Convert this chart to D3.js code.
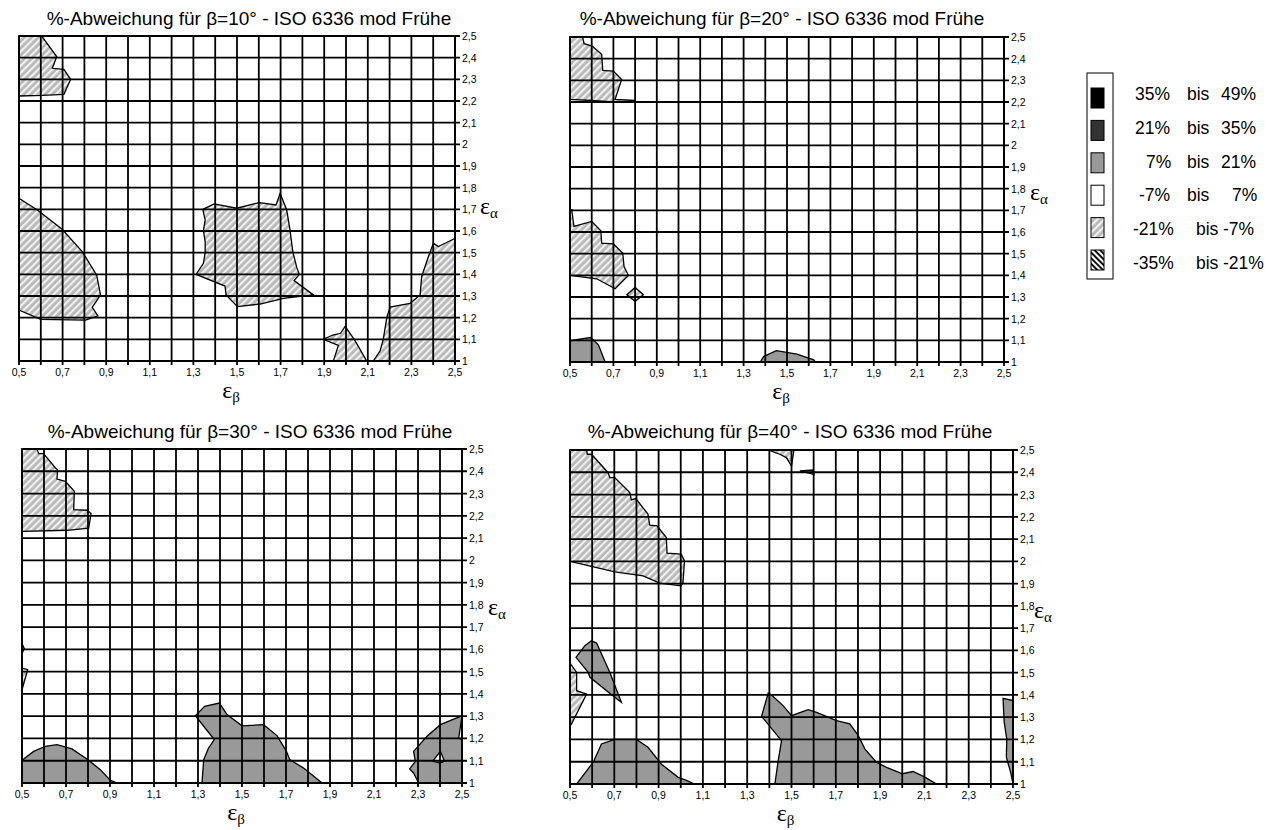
<!DOCTYPE html>
<html><head><meta charset="utf-8">
<script src="https://cdn.jsdelivr.net/npm/d3@7"></script>
<style>body{margin:0;background:#fff} text{font-family:"Liberation Sans",Arial,sans-serif;fill:#000}</style>
</head><body><svg id="c" width="1282" height="830"></svg>
<script>
// ---------- data ----------
const titles = [
  "%-Abweichung für β=10° - ISO 6336 mod Frühe",
  "%-Abweichung für β=20° - ISO 6336 mod Frühe",
  "%-Abweichung für β=30° - ISO 6336 mod Frühe",
  "%-Abweichung für β=40° - ISO 6336 mod Frühe"
];
const epsBetaGrid = [0.5,0.6,0.7,0.8,0.9,1.0,1.1,1.2,1.3,1.4,1.5,1.6,1.7,1.8,1.9,2.0,2.1,2.2,2.3,2.4,2.5];
const epsBetaTickValues = [0.5,0.7,0.9,1.1,1.3,1.5,1.7,1.9,2.1,2.3,2.5];
const epsBetaTickLabels = ["0,5","0,7","0,9","1,1","1,3","1,5","1,7","1,9","2,1","2,3","2,5"];
const epsAlphaGrid = [1.0,1.1,1.2,1.3,1.4,1.5,1.6,1.7,1.8,1.9,2.0,2.1,2.2,2.3,2.4,2.5];
const epsAlphaTickLabels = ["1","1,1","1,2","1,3","1,4","1,5","1,6","1,7","1,8","1,9","2","2,1","2,2","2,3","2,4","2,5"];

const bandKeys   = ["b35_49","b21_35","b7_21","bm7_7","bm21_m7","bm35_m21"];
const legendLeft = ["35%","21%","7%","-7%","-21%","-35%"];
const legendMid  = ["bis","bis","bis","bis","bis","bis"];
const legendRight= ["49%","35%","21%","7%","-7%","-21%"];

// contour regions, vertices in (εβ, εα)
// β = 10°
const p10_topLeft = [[0.5,2.5],[0.604,2.5],[0.673,2.405],[0.653,2.351],[0.706,2.346],[0.737,2.30],[0.706,2.231],[0.607,2.226],[0.5,2.223]];
const p10_left = [[0.5,1.751],[0.584,1.697],[0.698,1.608],[0.79,1.505],[0.856,1.397],[0.874,1.305],[0.836,1.248],[0.862,1.208],[0.805,1.189],[0.599,1.192],[0.5,1.235]];
const p10_mid = [[1.343,1.70],[1.395,1.725],[1.499,1.705],[1.601,1.731],[1.679,1.72],[1.698,1.774],[1.728,1.697],[1.743,1.605],[1.756,1.505],[1.774,1.432],[1.786,1.40],[1.762,1.371],[1.85,1.305],[1.713,1.289],[1.606,1.263],[1.502,1.251],[1.45,1.305],[1.445,1.346],[1.312,1.40],[1.346,1.451],[1.354,1.50],[1.354,1.551],[1.346,1.602],[1.354,1.651]];
const p10_right = [[2.125,1.0],[2.156,1.046],[2.171,1.1],[2.187,1.2],[2.202,1.249],[2.294,1.266],[2.34,1.305],[2.347,1.389],[2.378,1.482],[2.401,1.543],[2.424,1.528],[2.5,1.566],[2.5,1.0]];
const p10_bottom = [[1.895,1.1],[1.94,1.12],[1.975,1.128],[1.996,1.16],[2.04,1.096],[2.095,1.0],[1.942,1.0],[1.965,1.072]];
// β = 20°
const p20_topLeft = [[0.5,2.5],[0.558,2.5],[0.565,2.469],[0.602,2.458],[0.646,2.42],[0.651,2.346],[0.7,2.343],[0.738,2.304],[0.708,2.212],[0.8,2.207],[0.8,2.199],[0.7,2.201],[0.6,2.207],[0.5,2.212]];
const p20_left = [[0.5,1.703],[0.508,1.703],[0.518,1.626],[0.6,1.649],[0.642,1.606],[0.646,1.549],[0.7,1.545],[0.743,1.503],[0.749,1.441],[0.769,1.40],[0.708,1.338],[0.623,1.384],[0.5,1.4]];
const p20_diamond = [[0.762,1.31],[0.8,1.344],[0.838,1.31],[0.8,1.28]];
const p20_bottomLeft = [[0.5,1.098],[0.595,1.113],[0.631,1.079],[0.662,1.0],[0.5,1.0]];
const p20_bottomMid = [[1.377,1.0],[1.392,1.025],[1.451,1.052],[1.546,1.036],[1.623,1.01],[1.631,1.0]];
// β = 30°
const p30_topLeft = [[0.5,2.5],[0.568,2.5],[0.576,2.479],[0.598,2.479],[0.652,2.415],[0.662,2.407],[0.659,2.365],[0.697,2.355],[0.738,2.31],[0.735,2.228],[0.795,2.225],[0.814,2.21],[0.803,2.145],[0.705,2.135],[0.5,2.13]];
const p30_edgeGrey = [[0.5,1.626],[0.511,1.602],[0.5,1.584]];
const p30_edgeHatch = [[0.5,1.516],[0.526,1.509],[0.5,1.419]];
const p30_bottomLeft = [[0.5,1.102],[0.553,1.142],[0.606,1.165],[0.659,1.172],[0.727,1.153],[0.795,1.108],[0.856,1.06],[0.902,1.012],[0.932,1.0],[0.5,1.0]];
const p30_bottomMid = [[1.318,1.0],[1.326,1.105],[1.348,1.157],[1.374,1.195],[1.288,1.302],[1.33,1.344],[1.397,1.359],[1.432,1.307],[1.5,1.257],[1.598,1.262],[1.659,1.213],[1.702,1.142],[1.717,1.105],[1.78,1.067],[1.864,1.0]];
const p30_bottomRight = [[2.303,1.0],[2.28,1.045],[2.262,1.063],[2.288,1.097],[2.28,1.142],[2.341,1.21],[2.402,1.262],[2.5,1.302],[2.485,1.202],[2.5,1.195],[2.5,1.0]];
const p30_hole = [[2.367,1.098],[2.402,1.142],[2.42,1.098],[2.4,1.09]];
// β = 40°
const p40_topLeft = [[0.5,2.5],[0.575,2.5],[0.578,2.481],[0.597,2.481],[0.672,2.398],[0.68,2.376],[0.702,2.376],[0.77,2.309],[0.777,2.276],[0.797,2.282],[0.852,2.212],[0.86,2.162],[0.893,2.159],[0.935,2.107],[0.938,2.037],[1.002,2.032],[1.017,2.002],[1.01,1.905],[1.002,1.89],[0.905,1.902],[0.83,1.935],[0.702,1.953],[0.597,1.977],[0.5,2.0]];
const p40_spike = [[0.527,1.569],[0.567,1.621],[0.597,1.643],[0.62,1.633],[0.68,1.501],[0.732,1.367],[0.692,1.397],[0.59,1.479],[0.582,1.501]];
const p40_edgeHatch = [[0.5,1.543],[0.53,1.501],[0.53,1.419],[0.575,1.404],[0.507,1.27],[0.5,1.262]];
const p40_bottomLeft = [[0.53,1.0],[0.605,1.098],[0.642,1.18],[0.702,1.2],[0.8,1.2],[0.852,1.165],[0.912,1.09],[0.987,1.031],[1.025,1.016],[1.062,1.0]];
const p40_bottomMid = [[1.425,1.0],[1.44,1.105],[1.455,1.195],[1.365,1.304],[1.395,1.409],[1.41,1.4],[1.462,1.352],[1.5,1.307],[1.575,1.334],[1.613,1.322],[1.703,1.285],[1.763,1.27],[1.801,1.218],[1.831,1.158],[1.883,1.098],[1.929,1.075],[2.001,1.046],[2.049,1.056],[2.102,1.031],[2.154,1.0]];
const p40_topHatch = [[1.395,2.5],[1.447,2.481],[1.477,2.466],[1.5,2.428],[1.511,2.5]];
const p40_topSmall = [[1.538,2.406],[1.598,2.41],[1.601,2.391]];
const p40_right = [[2.455,1.385],[2.5,1.375],[2.5,1.0],[2.49,1.05],[2.47,1.12],[2.472,1.2],[2.46,1.28]];

const regions10 = [["bm21_m7",p10_topLeft],["bm21_m7",p10_left],["bm21_m7",p10_mid],["bm21_m7",p10_right],["bm21_m7",p10_bottom]];
const regions20 = [["bm21_m7",p20_topLeft],["bm21_m7",p20_left],["bm21_m7",p20_diamond],["b7_21",p20_bottomLeft],["b7_21",p20_bottomMid]];
const regions30 = [["bm21_m7",p30_topLeft],["b7_21",p30_edgeGrey],["bm21_m7",p30_edgeHatch],["b7_21",p30_bottomLeft],["b7_21",p30_bottomMid],["b7_21",p30_bottomRight],["bm7_7",p30_hole]];
const regions40 = [["bm21_m7",p40_topLeft],["b7_21",p40_spike],["bm21_m7",p40_edgeHatch],["b7_21",p40_bottomLeft],["b7_21",p40_bottomMid],["bm21_m7",p40_topHatch],["b7_21",p40_topSmall],["b7_21",p40_right]];

// ---------- drawing ----------
const svg = d3.select("#c");
const defs = svg.append("defs");
const lh = defs.append("pattern").attr("id","hatchLight").attr("patternUnits","userSpaceOnUse")
  .attr("width",5).attr("height",5).attr("patternTransform","rotate(45)");
lh.append("rect").attr("width",5).attr("height",5).attr("fill","#b8b8b8");
lh.append("rect").attr("width",2.2).attr("height",5).attr("fill","#f0f0f0");
const dh = defs.append("pattern").attr("id","hatchDark").attr("patternUnits","userSpaceOnUse")
  .attr("width",4).attr("height",4).attr("patternTransform","rotate(-45)");
dh.append("rect").attr("width",4).attr("height",4).attr("fill","#fff");
dh.append("rect").attr("width",2).attr("height",4).attr("fill","#111");

const bandFill = {b35_49:"#000000", b21_35:"#333333", b7_21:"#999999", bm7_7:"#ffffff",
                  bm21_m7:"url(#hatchLight)", bm35_m21:"url(#hatchDark)"};

const layouts = [
  {x0:19, x1:455, y0:36, y1:361, tx:249, ty:25, ex:480, ey:214},
  {x0:570,x1:1004,y0:37, y1:362, tx:782, ty:25, ex:1030,ey:200},
  {x0:22, x1:462, y0:449,y1:783, tx:250, ty:438,ex:488, ey:615},
  {x0:570,x1:1013,y0:450,y1:784, tx:790, ty:438,ex:1034,ey:618}
];
const allRegions = [regions10, regions20, regions30, regions40];

layouts.forEach((L, i) => {
  const xs = d3.scaleLinear().domain([0.5,2.5]).range([L.x0,L.x1]);
  const ys = d3.scaleLinear().domain([1,2.5]).range([L.y1,L.y0]);
  const g = svg.append("g");
  const cid = "clip"+i;
  defs.append("clipPath").attr("id",cid).append("rect")
    .attr("x",L.x0).attr("y",L.y0).attr("width",L.x1-L.x0).attr("height",L.y1-L.y0);
  g.append("rect").attr("x",L.x0).attr("y",L.y0).attr("width",L.x1-L.x0).attr("height",L.y1-L.y0).attr("fill","#fff");
  const line = d3.line().x(d=>xs(d[0])).y(d=>ys(d[1]));
  const pg = g.append("g").attr("clip-path",`url(#${cid})`);
  pg.selectAll("path").data(allRegions[i]).join("path")
    .attr("d", d => line(d[1]) + "Z")
    .attr("fill", d => bandFill[d[0]])
    .attr("stroke","#000").attr("stroke-width",1.3).attr("stroke-linejoin","miter");
  // grid
  g.append("g").selectAll("line").data(epsBetaGrid).join("line")
    .attr("x1",d=>xs(d)).attr("x2",d=>xs(d)).attr("y1",L.y0).attr("y2",L.y1+4)
    .attr("stroke","#000").attr("stroke-width",1.8);
  g.append("g").selectAll("line").data(epsAlphaGrid).join("line")
    .attr("x1",L.x0).attr("x2",L.x1+5).attr("y1",d=>ys(d)).attr("y2",d=>ys(d))
    .attr("stroke","#000").attr("stroke-width",1.8);
  g.append("rect").attr("x",L.x0).attr("y",L.y0).attr("width",L.x1-L.x0).attr("height",L.y1-L.y0)
    .attr("fill","none").attr("stroke","#000").attr("stroke-width",1.8);
  // x labels
  g.append("g").selectAll("text").data(epsBetaTickValues).join("text")
    .attr("x",d=>xs(d)).attr("y",L.y1+15).attr("text-anchor","middle")
    .attr("font-size","10.5px").text((d,k)=>epsBetaTickLabels[k]);
  // y labels
  g.append("g").selectAll("text").data(epsAlphaGrid).join("text")
    .attr("x",L.x1+7).attr("y",d=>ys(d)+4).attr("font-size","10.5px")
    .text((d,k)=>epsAlphaTickLabels[k]);
  // title
  g.append("text").attr("x",L.tx).attr("y",L.ty).attr("text-anchor","middle")
    .attr("font-size","19px").text(titles[i]);
  // axis titles
  const eb = g.append("text").attr("x",(L.x0+L.x1)/2-6).attr("y",L.y1+37).attr("text-anchor","middle")
    .style("font-family","'Liberation Serif','DejaVu Serif',serif").attr("font-size","24px");
  eb.append("tspan").text("ε");
  eb.append("tspan").attr("font-size","15px").attr("dy",4).text("β");
  const ea = g.append("text").attr("x",L.ex).attr("y",L.ey)
    .style("font-family","'Liberation Serif','DejaVu Serif',serif").attr("font-size","24px");
  ea.append("tspan").text("ε");
  ea.append("tspan").attr("font-size","15px").attr("dy",4).text("α");
});

// legend
const lg = svg.append("g");
lg.append("rect").attr("x",1087).attr("y",73).attr("width",26).attr("height",206)
  .attr("fill","#fff").attr("stroke","#000").attr("stroke-width",1);
const rowY = d3.scalePoint().domain(bandKeys).range([98,260]);
lg.selectAll("rect.key").data(bandKeys).join("rect").attr("class","key")
  .attr("x",1091).attr("y",d=>rowY(d)-10).attr("width",13).attr("height",20)
  .attr("fill",d=>bandFill[d]).attr("stroke","#000").attr("stroke-width",1);
const leftX = [1135,1135,1146,1139,1133,1133];
const midX  = [1187,1187,1187,1187,1196,1196];
const rightX= [1221,1221,1221,1232,1223,1223];
const textY = d3.scalePoint().domain(bandKeys).range([100,269]);
bandKeys.forEach((k,i)=>{
  lg.append("text").attr("x",leftX[i]).attr("y",textY(k)).attr("font-size","17.5px").text(legendLeft[i]);
  lg.append("text").attr("x",midX[i]).attr("y",textY(k)).attr("font-size","17.5px").text(legendMid[i]);
  lg.append("text").attr("x",rightX[i]).attr("y",textY(k)).attr("font-size","17.5px").text(legendRight[i]);
});
</script></body></html>
